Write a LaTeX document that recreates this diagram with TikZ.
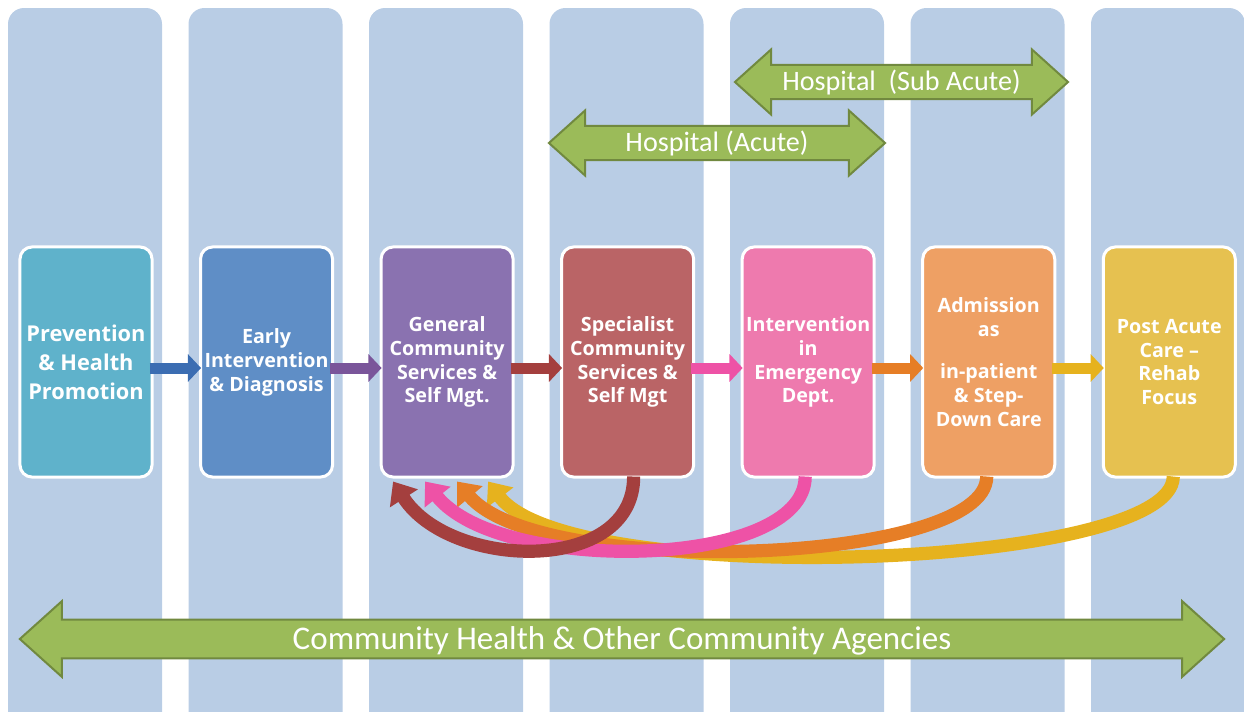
\documentclass[tikz,border=0pt]{standalone}
\usepackage{fontspec}
\setmainfont{Carlito}
\newfontfamily\boxfont{Open Sans}
\usetikzlibrary{arrows.meta,shapes.arrows}

\definecolor{stripblue}{HTML}{B9CDE5}
\definecolor{olive}{HTML}{9BBB59}
\definecolor{darkolive}{HTML}{71893F}
\definecolor{teal}{HTML}{5FB2CB}
\definecolor{steel}{HTML}{5F8EC6}
\definecolor{lilac}{HTML}{8A72B0}
\definecolor{rose}{HTML}{BA6466}
\definecolor{pink}{HTML}{EE7AAE}
\definecolor{apricot}{HTML}{EEA064}
\definecolor{mustard}{HTML}{E6C150}
\definecolor{bluelink}{HTML}{3B6DB2}
\definecolor{purplelink}{HTML}{7A559A}
\definecolor{redlink}{HTML}{A43F3E}
\definecolor{pinklink}{HTML}{EE52A6}
\definecolor{orangelink}{HTML}{E67E26}
\definecolor{yellowlink}{HTML}{E6B21E}

\begin{document}
\begin{tikzpicture}[x=0.025cm, y=-0.025cm, node distance=4.5125cm,
      strip/.style={fill=stripblue, rounded corners=0.4cm},
      stage/.style={rounded corners=0.3cm, draw=white, line width=0.075cm,
        minimum width=3.3cm, minimum height=5.75cm, inner sep=1pt, align=center,
        text=white, font=\boxfont\bfseries\fontsize{14}{17}\selectfont},
      link/.style={line width=0.275cm, -{Triangle[length=0.33cm, width=0.68cm]}},
      backflow/.style={line width=0.33cm, -{Triangle[length=0.5cm, width=0.8cm]}},
      bigarrow/.style={double arrow, fill=olive, draw=darkolive, line width=0.05cm,
        double arrow tip angle=84, inner xsep=0pt, text=white}]
      \clip (0,0) rectangle (1244,711);

      % Columns behind the stages
      \fill[strip] (8,8) rectangle (162,740);
      \fill[strip] (188.5,8) rectangle (342.5,740);
      \fill[strip] (369,8) rectangle (523,740);
      \fill[strip] (549.5,8) rectangle (703.5,740);
      \fill[strip] (730,8) rectangle (884,740);
      \fill[strip] (910.5,8) rectangle (1064.5,740);
      \fill[strip] (1091,8) rectangle (1245,740);

      % Hospital ranges
      \node[bigarrow, minimum height=8.325cm, double arrow head extend=0.39cm,
        text height=0.42cm, text depth=0cm, inner ysep=0.19cm,
        font=\fontsize{20}{24}\selectfont] (subacute) at (901.5,82) {Hospital\ \ (Sub Acute)};
      \node[bigarrow, minimum height=8.4cm, double arrow head extend=0.39cm,
        text height=0.42cm, text depth=0cm, inner ysep=0.19cm,
        font=\fontsize{20}{24}\selectfont] (acute) at (717,143) {Hospital (Acute)};

      % Stages of care
      \node[stage, fill=teal, font=\boxfont\bfseries\fontsize{15.5}{20.5}\selectfont] (prev) at (86,362)
        {Prevention\\\& Health\\Promotion};
      \node[stage, fill=steel, right of=prev] (early) {Early\\Intervention\\\& Diagnosis};
      \node[stage, fill=lilac, right of=early] (gen) {General\\Community\\Services \&\\Self Mgt.};
      \node[stage, fill=rose, right of=gen] (spec) {Specialist\\Community\\Services \&\\Self Mgt};
      \node[stage, fill=pink, right of=spec] (emerg) {Intervention\\in\\Emergency\\Dept.};
      \node[stage, fill=apricot, right of=emerg] (admit)
        {Admission\\as\\[0.45cm]in-patient\\\& Step-\\Down Care};
      \node[stage, fill=mustard, right of=admit] (post) {Post Acute\\Care –\\Rehab\\Focus};

      % Forward steps
      \draw[link, bluelink] ([shift={(-4,6)}]prev.east) -- ([shift={(2,6)}]early.west);
      \draw[link, purplelink] ([shift={(-4,6)}]early.east) -- ([shift={(2,6)}]gen.west);
      \draw[link, redlink] ([shift={(-4,6)}]gen.east) -- ([shift={(2,6)}]spec.west);
      \draw[link, pinklink] ([shift={(-4,6)}]spec.east) -- ([shift={(2,6)}]emerg.west);
      \draw[link, orangelink] ([shift={(-4,6)}]emerg.east) -- ([shift={(2,6)}]admit.west);
      \draw[link, yellowlink] ([shift={(-4,6)}]admit.east) -- ([shift={(2,6)}]post.west);

      % Return paths back to community services
      \coordinate (ret1) at ([shift={(-54,3)}]gen.south);
      \coordinate (ret2) at ([shift={(-22,3)}]gen.south);
      \coordinate (ret3) at ([shift={(10,3)}]gen.south);
      \coordinate (ret4) at ([shift={(41,3)}]gen.south);
      \draw[backflow, yellowlink] ([shift={(4,-2)}]post.south) .. controls (1173,570) and (570,590) .. (ret4);
      \draw[backflow, orangelink] ([shift={(-2,-2)}]admit.south) .. controls (987,565) and (540,580) .. (ret3);
      \draw[backflow, pinklink] ([shift={(-3,-2)}]emerg.south) .. controls (805,570) and (500,575) .. (ret2);
      \draw[backflow, redlink] ([shift={(6,-2)}]spec.south) .. controls (634,575) and (450,570) .. (ret1);

      % Community services along the whole path
      \node[bigarrow, minimum height=30.1cm, double arrow head extend=0.46cm,
        text height=0.52cm, text depth=0cm, inner ysep=0.2cm,
        font=\fontsize{23.5}{28}\selectfont] (community) at (622,639)
        {Community Health \& Other Community Agencies};
    \end{tikzpicture}
\end{document}
